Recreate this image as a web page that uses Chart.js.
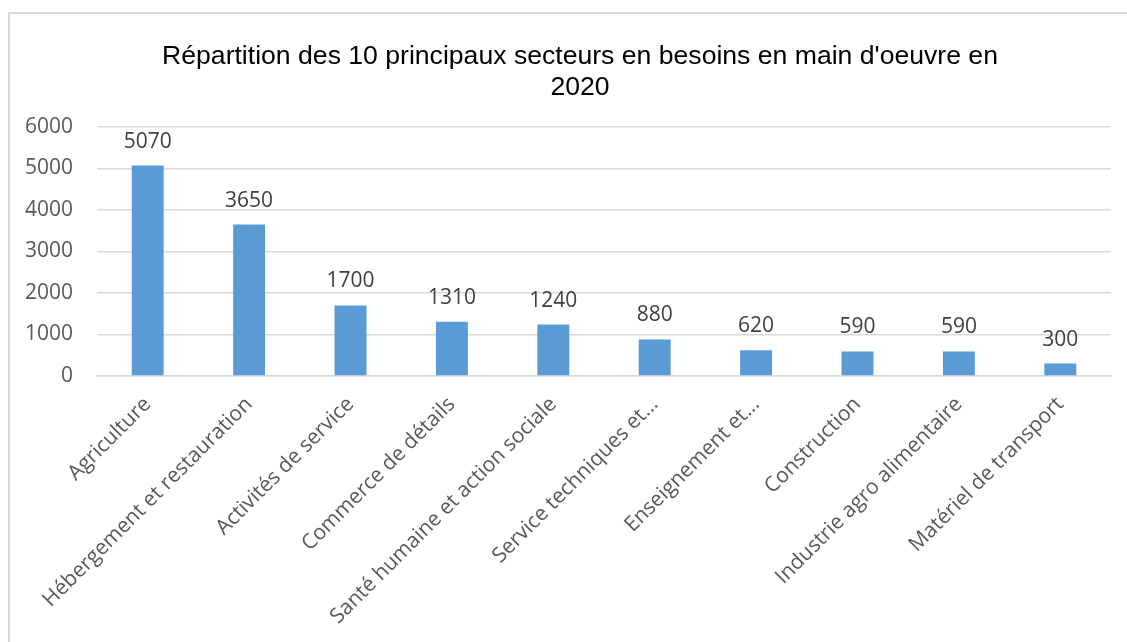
<!DOCTYPE html>
<html>
<head>
<meta charset="utf-8">
<script src="https://cdn.jsdelivr.net/npm/chart.js@4"></script>
<style>
  html, body { margin: 0; padding: 0; background: #fff; }
  #wrap { width: 1127px; height: 642px; position: relative; }
</style>
</head>
<body>
<div id="wrap"><canvas id="chart-bar"></canvas></div>
<script>
// secteurs et besoins en main d'oeuvre
var secteurs = [
  "Agriculture",
  "Hébergement et restauration",
  "Activités de service",
  "Commerce de détails",
  "Santé humaine et action sociale",
  "Service techniques et...",
  "Enseignement et...",
  "Construction",
  "Industrie agro alimentaire",
  "Matériel de transport"
];
var besoins = [5070, 3650, 1700, 1310, 1240, 880, 620, 590, 590, 300];
var graduations = [0, 1000, 2000, 3000, 4000, 5000, 6000];
var titre = ["Répartition des 10 principaux secteurs en besoins en main d'oeuvre en", "2020"];

// cadre gris + titre centré sur le cadre
var cadre = {
  id: "cadre",
  beforeDraw: function (chart) {
    var c = chart.ctx;
    c.save();
    c.strokeStyle = "#d9d9d9";
    c.lineWidth = 2;
    c.strokeRect(9, 13, 1200, 700);
    c.font = "26.6px 'Liberation Sans', Arial";
    c.fillStyle = "#000";
    c.textAlign = "center";
    c.textBaseline = "middle";
    titre.forEach(function (ligne, i) {
      c.fillText(ligne, 580, 57 + i * 31);
    });
    c.restore();
  }
};

// valeurs au-dessus des barres
var etiquettes = {
  id: "etiquettes",
  afterDatasetsDraw: function (chart) {
    var c = chart.ctx;
    var meta = chart.getDatasetMeta(0);
    c.save();
    c.font = "21px 'Open Sans'";
    c.fillStyle = "#404040";
    c.textAlign = "center";
    c.textBaseline = "middle";
    meta.data.forEach(function (bar, i) {
      c.fillText(String(besoins[i]), bar.x, bar.y - 24);
    });
    c.restore();
  }
};

var ctx = document.getElementById("chart-bar").getContext("2d");
new Chart(ctx, {
  type: "bar",
  data: {
    labels: secteurs,
    datasets: [
      {
        data: besoins,
        backgroundColor: "#5b9bd5",
        borderWidth: 0,
        categoryPercentage: 1,
        barPercentage: 0.315
      }
    ]
  },
  options: {
    responsive: true,
    maintainAspectRatio: false,
    animation: false,
    layout: {
      padding: { left: 0, right: 16, top: 127, bottom: 0 }
    },
    plugins: {
      legend: { display: false },
      tooltip: { enabled: false },
      title: { display: false }
    },
    scales: {
      y: {
        min: 0,
        max: 6000,
        afterBuildTicks: function (scale) {
          scale.ticks = graduations.map(function (v) { return { value: v }; });
        },
        afterFit: function (scale) { scale.width = 97; },
        border: { display: false },
        grid: { color: "#d9d9d9", lineWidth: 1.5, drawTicks: false },
        ticks: {
          padding: 24,
          color: "#595959",
          font: { family: "'Open Sans'", size: 21 },
          callback: function (v) { return String(v); }
        }
      },
      x: {
        afterFit: function (scale) { scale.height = 266; },
        border: { color: "#d9d9d9", width: 1.5 },
        grid: { display: false },
        ticks: {
          autoSkip: false,
          minRotation: 45,
          maxRotation: 45,
          padding: 8,
          color: "#595959",
          font: { family: "'Open Sans'", size: 21 }
        }
      }
    }
  },
  plugins: [cadre, etiquettes]
});
</script>
</body>
</html>
